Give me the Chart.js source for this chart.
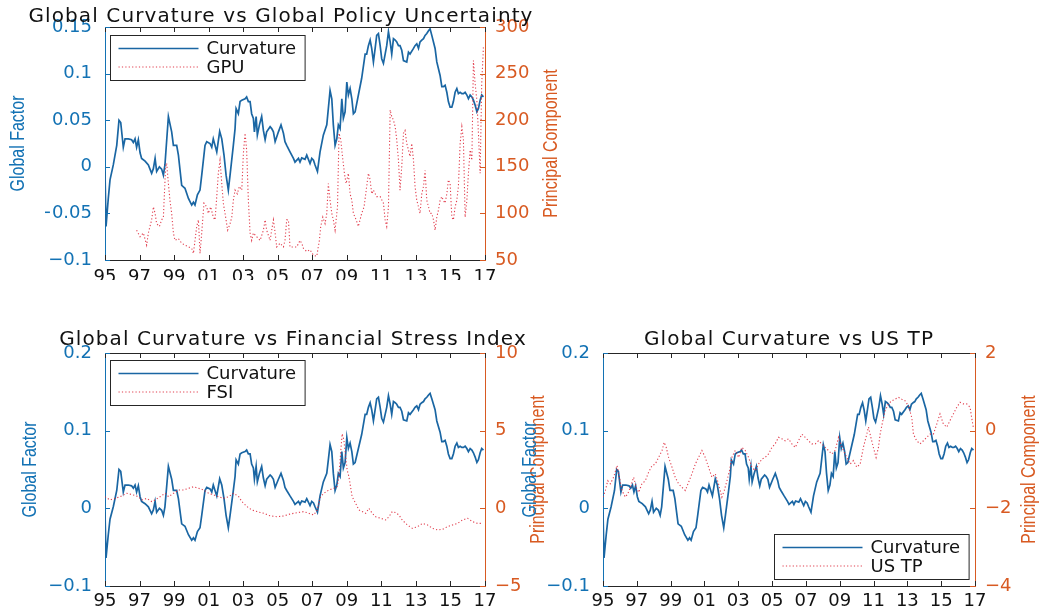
<!DOCTYPE html>
<html>
<head>
<meta charset="utf-8">
<script src="https://cdn.jsdelivr.net/npm/chart.js@4.4.1/dist/chart.umd.min.js"></script>
<style>
  html, body { margin: 0; padding: 0; background: #ffffff; }
  #wrap { position: relative; width: 1053px; height: 615px; overflow: hidden; background: #ffffff; }
  #wrap canvas { position: absolute; left: 0; top: 0; }
</style>
</head>
<body>
<div id="wrap">
  <canvas id="gpuChart" width="1053" height="615"></canvas>
  <canvas id="fsiChart" width="1053" height="615"></canvas>
  <canvas id="tpChart" width="1053" height="615"></canvas>
</div>
<script>
// ---- Shared x-axis years (decimal year) ----
const xTickYears = [1995, 1997, 1999, 2001, 2003, 2005, 2007, 2009, 2011, 2013, 2015, 2017];

// ---- Global curvature factor ----
const curvDates = [
  1995.00,1995.06,1995.19,1995.29,1995.48,1995.68,1995.81,1995.91,1996.06,1996.16,
  1996.35,1996.54,1996.64,1996.74,1996.83,1996.93,1997.03,1997.12,1997.32,1997.51,
  1997.70,1997.80,1997.90,1997.99,1998.15,1998.28,1998.38,1998.47,1998.67,1998.86,
  1998.96,1999.15,1999.25,1999.44,1999.63,1999.83,2000.02,2000.12,2000.21,2000.35,
  2000.50,2000.60,2000.79,2000.89,2001.08,2001.18,2001.27,2001.37,2001.47,2001.64,
  2001.76,2001.89,2002.01,2002.14,2002.24,2002.43,2002.53,2002.59,2002.72,2002.82,
  2002.92,2003.11,2003.20,2003.30,2003.40,2003.49,2003.59,2003.65,2003.75,2003.82,
  2003.94,2004.07,2004.17,2004.27,2004.36,2004.56,2004.65,2004.75,2004.85,2004.94,
  2005.04,2005.19,2005.33,2005.42,2005.52,2005.71,2005.91,2006.00,2006.20,2006.29,
  2006.39,2006.58,2006.68,2006.87,2006.97,2007.07,2007.16,2007.30,2007.45,2007.64,
  2007.84,2007.93,2008.03,2008.13,2008.22,2008.32,2008.42,2008.51,2008.61,2008.71,
  2008.80,2008.90,2009.00,2009.09,2009.19,2009.29,2009.38,2009.48,2009.67,2009.86,
  2010.06,2010.15,2010.25,2010.35,2010.44,2010.54,2010.64,2010.73,2010.83,2010.93,
  2011.02,2011.12,2011.31,2011.41,2011.51,2011.60,2011.70,2011.80,2011.89,2011.99,
  2012.08,2012.18,2012.28,2012.47,2012.57,2012.66,2012.86,2012.95,2013.05,2013.15,
  2013.24,2013.34,2013.44,2013.53,2013.63,2013.73,2013.82,2013.92,2014.11,2014.21,
  2014.40,2014.50,2014.59,2014.69,2014.79,2014.88,2014.98,2015.08,2015.17,2015.27,
  2015.37,2015.46,2015.56,2015.66,2015.75,2015.85,2015.95,2016.04,2016.14,2016.24,
  2016.33,2016.43,2016.53,2016.62,2016.72,2016.81,2016.91
];
const curvValues = [
  -0.005,-0.064,-0.034,-0.014,0.002,0.023,0.050,0.0475,0.021,0.030,
  0.030,0.029,0.026,0.030,0.021,0.029,0.015,0.009,0.006,0.002,
  -0.007,-0.002,0.009,-0.005,0.000,-0.0025,-0.009,0.002,0.054,0.0375,
  0.023,0.023,0.0125,-0.020,-0.023,-0.034,-0.041,-0.038,-0.041,-0.030,
  -0.025,-0.009,0.023,0.027,0.025,0.021,0.030,0.023,0.016,0.038,
  0.030,0.0125,-0.009,-0.025,-0.009,0.023,0.041,0.0625,0.057,0.070,
  0.0715,0.073,0.075,0.070,0.070,0.057,0.052,0.0375,0.054,0.034,
  0.045,0.054,0.039,0.029,0.0375,0.043,0.041,0.0375,0.027,0.032,
  0.0375,0.045,0.036,0.027,0.023,0.016,0.009,0.005,0.009,0.005,
  0.0095,0.008,0.0125,0.0035,0.009,0.007,0.002,-0.005,0.016,0.034,
  0.045,0.0625,0.082,0.073,0.045,0.023,0.030,0.045,0.041,0.073,
  0.052,0.059,0.091,0.077,0.084,0.073,0.057,0.059,0.077,0.095,
  0.121,0.121,0.130,0.136,0.127,0.1125,0.127,0.141,0.143,0.130,
  0.116,0.111,0.130,0.145,0.134,0.121,0.1375,0.136,0.134,0.130,
  0.130,0.125,0.114,0.1125,0.123,0.121,0.127,0.130,0.132,0.127,
  0.134,0.136,0.1375,0.141,0.143,0.146,0.148,0.141,0.127,0.1125,
  0.098,0.086,0.086,0.0875,0.080,0.070,0.064,0.064,0.070,0.080,
  0.084,0.0785,0.080,0.0785,0.0785,0.080,0.077,0.073,0.077,0.075,
  0.0715,0.066,0.059,0.0625,0.0715,0.077,0.075
];

// ---- Global Policy Uncertainty index ----
const gpuDates = [
  1996.83,1997.03,1997.22,1997.41,1997.51,1997.70,1997.80,1997.90,1997.99,1998.15,
  1998.28,1998.38,1998.51,1998.57,1998.67,1998.76,1998.86,1998.96,1999.05,1999.25,
  1999.44,1999.63,1999.83,2000.02,2000.12,2000.31,2000.41,2000.50,2000.60,2000.73,
  2000.89,2000.98,2001.12,2001.27,2001.37,2001.47,2001.56,2001.66,2001.76,2001.85,
  2002.01,2002.10,2002.24,2002.34,2002.43,2002.53,2002.66,2002.78,2002.92,2003.01,
  2003.11,2003.20,2003.30,2003.40,2003.49,2003.59,2003.78,2003.98,2004.17,2004.27,
  2004.36,2004.56,2004.65,2004.75,2004.85,2004.94,2005.14,2005.33,2005.42,2005.52,
  2005.62,2005.71,2005.91,2006.10,2006.29,2006.39,2006.49,2006.68,2006.87,2007.07,
  2007.26,2007.41,2007.49,2007.61,2007.74,2007.84,2007.93,2008.03,2008.13,2008.22,
  2008.32,2008.46,2008.55,2008.65,2008.75,2008.86,2008.96,2009.09,2009.19,2009.29,
  2009.38,2009.54,2009.67,2009.86,2010.00,2010.15,2010.25,2010.35,2010.44,2010.54,
  2010.73,2010.93,2011.12,2011.22,2011.31,2011.41,2011.51,2011.60,2011.70,2011.80,
  2011.89,2011.99,2012.08,2012.18,2012.28,2012.37,2012.47,2012.57,2012.66,2012.76,
  2012.86,2012.95,2013.05,2013.15,2013.24,2013.34,2013.44,2013.53,2013.63,2013.73,
  2013.82,2013.92,2014.02,2014.11,2014.21,2014.31,2014.40,2014.50,2014.59,2014.69,
  2014.79,2014.88,2014.98,2015.08,2015.17,2015.27,2015.37,2015.46,2015.56,2015.66,
  2015.75,2015.85,2015.95,2016.04,2016.14,2016.24,2016.33,2016.43,2016.53,2016.62,
  2016.72,2016.81,2016.91
];
const gpuValues = [
  82,75,79,66,79,93,107,100,89,86,
  93,96,150,154,132,114,100,79,71,73,
  68,66,64,62.5,57,86,93,57,79,111,
  107,100,107,96,93,118,143,157,132,111,
  93,82,89,96,114,125,121,129,125,164,
  186,168,114,79,71,79,75,71,82,93,
  82,71,82,93,79,64,68,64,71,93,
  93,64,64,64,71,68,62.5,59,61,55,
  54,71,86,96,89,100,132,114,100,93,
  82,107,186,179,161,143,132,143,121,114,
  100,93,86,100,107,129,143,136,121,125,
  118,118,111,93,86,107,211,204,200,193,
  179,157,125,150,186,189,175,168,161,175,
  157,129,114,107,100,121,129,146,114,107,
  100,100,93,82,96,104,114,118,114,111,
  121,136,132,96,93,107,114,129,175,193,
  179,96,114,143,168,157,264,239,221,186,
  143,239,279
];

// ---- Financial Stress Index ----
const fsiDates = [
  1995.00,1995.29,1995.58,1995.87,1996.26,1996.64,1996.93,1997.13,1997.42,1997.71,
  1997.90,1998.19,1998.48,1998.68,1998.97,1999.26,1999.55,1999.84,2000.13,2000.42,
  2000.71,2001.00,2001.29,2001.58,2001.87,2002.16,2002.45,2002.74,2002.93,2003.22,
  2003.51,2003.80,2004.19,2004.57,2004.96,2005.35,2005.74,2006.12,2006.51,2006.80,
  2007.09,2007.28,2007.48,2007.67,2007.96,2008.25,2008.44,2008.54,2008.64,2008.73,
  2008.83,2008.93,2009.02,2009.12,2009.31,2009.51,2009.70,2009.89,2010.09,2010.28,
  2010.47,2010.67,2010.96,2011.25,2011.44,2011.63,2011.83,2012.02,2012.21,2012.50,
  2012.80,2013.09,2013.38,2013.67,2013.96,2014.25,2014.54,2014.83,2015.12,2015.41,
  2015.70,2015.99,2016.28,2016.57,2016.86
];
const fsiValues = [
  0.75,0.54,0.64,0.75,0.97,0.86,0.75,0.54,0.64,0.43,
  0.54,0.75,0.97,0.75,0.97,1.18,1.18,1.29,1.39,1.29,
  1.18,0.97,0.86,0.75,0.64,0.75,0.97,0.75,0.43,0.11,
  -0.11,-0.21,-0.32,-0.49,-0.54,-0.49,-0.36,-0.28,-0.21,-0.32,
  -0.43,-0.11,0.75,0.97,1.18,1.29,1.39,2.04,3.54,4.8,
  4.40,3.33,2.47,2.04,0.75,0.32,-0.11,-0.21,-0.32,0.0,
  -0.32,-0.54,-0.64,-0.75,-0.54,-0.21,-0.28,-0.43,-0.75,-1.07,
  -1.29,-1.18,-0.97,-1.07,-1.29,-1.39,-1.35,-1.18,-1.07,-0.97,
  -0.75,-0.64,-0.86,-0.97,-0.97
];

// ---- US term premium (principal component) ----
const tpDates = [
  1995.00,1995.14,1995.28,1995.43,1995.63,1995.83,1995.97,1996.12,1996.32,1996.46,
  1996.62,1996.81,1996.97,1997.11,1997.30,1997.50,1997.70,1997.90,1998.09,1998.29,
  1998.49,1998.62,1998.74,1998.88,1999.08,1999.27,1999.47,1999.67,1999.87,2000.06,
  2000.26,2000.46,2000.65,2000.85,2001.05,2001.24,2001.44,2001.64,2001.83,2002.03,
  2002.17,2002.33,2002.48,2002.62,2002.82,2003.02,2003.21,2003.41,2003.61,2003.80,
  2004.00,2004.20,2004.40,2004.59,2004.79,2004.99,2005.18,2005.38,2005.58,2005.77,
  2005.97,2006.17,2006.37,2006.56,2006.76,2006.96,2007.15,2007.35,2007.55,2007.74,
  2007.94,2008.14,2008.33,2008.53,2008.73,2008.93,2009.06,2009.22,2009.42,2009.62,
  2009.81,2010.01,2010.21,2010.40,2010.60,2010.70,2010.84,2010.99,2011.15,2011.29,
  2011.39,2011.55,2011.68,2011.88,2012.08,2012.27,2012.47,2012.67,2012.86,2013.06,
  2013.26,2013.36,2013.55,2013.75,2013.95,2014.15,2014.34,2014.54,2014.74,2014.93,
  2015.13,2015.33,2015.52,2015.72,2015.92,2016.12,2016.31,2016.51,2016.71,2016.80,
  2016.90
];
const tpValues = [
  -1.71,-1.54,-1.29,-1.37,-1.20,-0.90,-1.20,-1.54,-1.71,-1.63,
  -1.46,-1.20,-1.46,-1.59,-1.37,-1.29,-1.07,-0.90,-0.86,-0.69,
  -0.51,-0.30,-0.43,-0.69,-0.94,-1.20,-1.37,-1.46,-1.54,-1.33,
  -1.11,-0.86,-0.69,-0.51,-0.69,-0.94,-1.20,-1.11,-1.37,-1.71,
  -1.54,-1.29,-1.03,-0.69,-0.51,-0.69,-0.43,-0.51,-0.69,-0.94,
  -1.03,-0.86,-0.73,-0.69,-0.60,-0.43,-0.34,-0.17,-0.21,-0.26,
  -0.21,-0.34,-0.43,-0.26,-0.09,-0.17,-0.26,-0.34,-0.34,-0.26,
  -0.34,-0.43,-0.51,-0.60,-0.51,-0.17,-0.34,-0.51,-0.69,-0.86,
  -0.77,-0.94,-0.86,-0.43,-0.09,0.09,-0.17,-0.43,-0.69,-0.43,
  -0.09,0.26,0.51,0.69,0.77,0.81,0.86,0.81,0.77,0.64,
  0.34,-0.09,-0.26,-0.34,-0.26,-0.17,-0.09,-0.09,0.17,0.43,
  0.17,0.09,0.26,0.43,0.60,0.73,0.69,0.69,0.60,0.34,
  0.09
];

// ---- Axis tick values ----
const gpuLeftTicks  = [-0.1, -0.05, 0, 0.05, 0.1, 0.15];
const gpuRightTicks = [50, 100, 150, 200, 250, 300];
const fsiLeftTicks  = [-0.1, 0, 0.1, 0.2];
const fsiRightTicks = [-5, 0, 5, 10];
const tpLeftTicks   = [-0.1, 0, 0.1, 0.2];
const tpRightTicks  = [-4, -2, 0, 2];

// ---- Styling ----
const AX_BLUE = '#1372b4';
const AX_ORANGE = '#d85a22';
const FRAME = '#262626';
const CURV_COLOR = '#1a66a3';
const DOT_COLOR = 'rgba(222, 40, 58, 0.9)';
const DOT_DASH = [1.2, 2.2];
const TICK_FONT = { family: 'DejaVu Sans', size: 18 };

Chart.defaults.font.family = 'DejaVu Sans';

function toPoints(xs, ys) { return xs.map((x, i) => ({ x: x, y: ys[i] })); }

function yearLabel(v) { return String(Math.round(v) % 100).padStart(2, '0'); }

function numLabel(v) {
  const r = Math.round(v * 1000) / 1000;
  const s = String(Math.abs(r));
  return r < 0 ? '\u2212' + s : s;
}

// Frame, inward tick marks, titles and in-axes legend
const panelDecor = {
  id: 'panelDecor',
  afterDraw(chart, args, o) {
    const ctx = chart.ctx;
    const a = chart.chartArea;
    const xs = chart.scales.x, yl = chart.scales.yL, yr = chart.scales.yR;
    const T = 5;
    ctx.save();
    ctx.lineWidth = 1;

    // top edge of the box
    ctx.strokeStyle = FRAME;
    ctx.beginPath();
    ctx.moveTo(a.left, Math.round(a.top) + 0.5);
    ctx.lineTo(a.right, Math.round(a.top) + 0.5);
    ctx.stroke();

    // x tick marks (bottom and top, pointing inward)
    ctx.beginPath();
    xs.ticks.forEach(t => {
      const p = Math.round(xs.getPixelForValue(t.value)) + 0.5;
      ctx.moveTo(p, a.bottom); ctx.lineTo(p, a.bottom - T);
      ctx.moveTo(p, a.top); ctx.lineTo(p, a.top + T);
    });
    ctx.stroke();

    // left y tick marks
    ctx.strokeStyle = AX_BLUE;
    ctx.beginPath();
    yl.ticks.forEach(t => {
      const p = Math.round(yl.getPixelForValue(t.value)) + 0.5;
      ctx.moveTo(a.left, p); ctx.lineTo(a.left + T, p);
    });
    ctx.stroke();

    // right y tick marks
    ctx.strokeStyle = AX_ORANGE;
    ctx.beginPath();
    yr.ticks.forEach(t => {
      const p = Math.round(yr.getPixelForValue(t.value)) + 0.5;
      ctx.moveTo(a.right, p); ctx.lineTo(a.right - T, p);
    });
    ctx.stroke();

    // title
    ctx.fillStyle = '#111111';
    ctx.font = '20px "DejaVu Sans"';
    if ('letterSpacing' in ctx) ctx.letterSpacing = '1.1px';
    ctx.textAlign = 'center';
    ctx.textBaseline = 'alphabetic';
    ctx.fillText(o.title, o.titleX, o.titleY);
    if ('letterSpacing' in ctx) ctx.letterSpacing = '0px';

    // axis titles (condensed, rotated)
    const midY = (a.top + a.bottom) / 2;
    const axisTitle = (text, x, color) => {
      ctx.save();
      ctx.translate(x, midY);
      ctx.rotate(-Math.PI / 2);
      ctx.scale(0.82, 1);
      ctx.fillStyle = color;
      ctx.font = '19.5px "Liberation Sans"';
      ctx.textAlign = 'center';
      ctx.textBaseline = 'middle';
      ctx.fillText(text, 0, 0);
      ctx.restore();
    };
    axisTitle('Global Factor', o.leftTitleX, AX_BLUE);
    axisTitle('Principal Component', o.rightTitleX, AX_ORANGE);

    // legend box
    const lg = o.legend;
    ctx.font = '18px "DejaVu Sans"';
    const textW = Math.max(...lg.items.map(it => ctx.measureText(it.text).width));
    const boxW = 96 + textW + 9;
    const boxH = 45;
    let bx, by;
    if (lg.corner === 'nw') { bx = a.left + lg.dx; by = a.top + lg.dy; }
    else { bx = a.right - lg.dx - boxW; by = a.bottom - lg.dy - boxH; }
    bx = Math.round(bx) + 0.5; by = Math.round(by) + 0.5;
    ctx.fillStyle = '#ffffff';
    ctx.fillRect(bx, by, boxW, boxH);
    ctx.strokeStyle = FRAME;
    ctx.setLineDash([]);
    ctx.strokeRect(bx, by, boxW, boxH);
    lg.items.forEach((it, i) => {
      const ry = by + 13 + i * 18.5;
      ctx.strokeStyle = it.color;
      ctx.lineWidth = it.width;
      ctx.setLineDash(it.dash || []);
      ctx.beginPath();
      ctx.moveTo(bx + 8, ry); ctx.lineTo(bx + 88, ry);
      ctx.stroke();
      ctx.setLineDash([]);
      ctx.fillStyle = '#111111';
      ctx.textAlign = 'left';
      ctx.textBaseline = 'middle';
      ctx.fillText(it.text, bx + 96, ry + 1);
    });
    ctx.restore();
  }
};

function makePanel(canvasId, p) {
  const AXW = 60, AXH = 20;
  return new Chart(document.getElementById(canvasId), {
    type: 'line',
    data: {
      datasets: [
        {
          label: p.otherLabel,
          data: toPoints(p.otherDates, p.otherValues),
          yAxisID: 'yR',
          borderColor: DOT_COLOR,
          borderWidth: 1.1,
          borderDash: DOT_DASH,
          pointRadius: 0,
          tension: 0,
          order: 0
        },
        {
          label: 'Curvature',
          data: toPoints(curvDates, curvValues),
          yAxisID: 'yL',
          borderColor: CURV_COLOR,
          borderWidth: 1.7,
          pointRadius: 0,
          tension: 0,
          order: 1
        }
      ]
    },
    options: {
      responsive: false,
      animation: false,
      devicePixelRatio: 1,
      events: [],
      layout: {
        padding: {
          left: p.area.left - AXW,
          right: 1053 - p.area.right - AXW,
          top: p.area.top,
          bottom: 615 - p.area.bottom - AXH
        }
      },
      plugins: {
        legend: { display: false },
        title: { display: false },
        tooltip: { enabled: false },
        panelDecor: {
          title: p.title, titleX: p.titleX, titleY: p.titleY,
          leftTitleX: p.leftTitleX, rightTitleX: p.rightTitleX,
          legend: {
            corner: p.legendCorner, dx: p.legendDx, dy: p.legendDy,
            items: [
              { text: 'Curvature', color: CURV_COLOR, width: 1.7 },
              { text: p.otherLabel, color: DOT_COLOR, width: 1.1, dash: DOT_DASH }
            ]
          }
        }
      },
      scales: {
        x: {
          type: 'linear',
          min: xTickYears[0],
          max: xTickYears[xTickYears.length - 1],
          afterBuildTicks: s => { s.ticks = xTickYears.map(v => ({ value: v })); },
          afterFit: s => { s.height = AXH; },
          grid: { display: false, drawTicks: false },
          border: { display: true, color: FRAME, width: 1 },
          ticks: {
            color: '#111111', font: TICK_FONT, padding: p.xPad,
            autoSkip: false, maxRotation: 0, minRotation: 0,
            callback: v => yearLabel(v)
          }
        },
        yL: {
          type: 'linear',
          position: 'left',
          min: p.leftTicks[0],
          max: p.leftTicks[p.leftTicks.length - 1],
          afterBuildTicks: s => { s.ticks = p.leftTicks.map(v => ({ value: v })); },
          afterFit: s => { s.width = AXW; },
          grid: { display: false, drawTicks: false },
          border: { display: true, color: AX_BLUE, width: 1 },
          ticks: { color: AX_BLUE, font: TICK_FONT, padding: 13, callback: v => numLabel(v) }
        },
        yR: {
          type: 'linear',
          position: 'right',
          min: p.rightTicks[0],
          max: p.rightTicks[p.rightTicks.length - 1],
          afterBuildTicks: s => { s.ticks = p.rightTicks.map(v => ({ value: v })); },
          afterFit: s => { s.width = AXW; },
          grid: { display: false, drawTicks: false },
          border: { display: true, color: AX_ORANGE, width: 1 },
          ticks: { color: AX_ORANGE, font: TICK_FONT, padding: 10, callback: v => numLabel(v) }
        }
      }
    },
    plugins: [panelDecor]
  });
}

makePanel('gpuChart', {
  otherLabel: 'GPU', otherDates: gpuDates, otherValues: gpuValues,
  leftTicks: gpuLeftTicks, rightTicks: gpuRightTicks,
  area: { left: 105, right: 485, top: 27, bottom: 260 },
  xPad: 7,
  title: 'Global Curvature vs Global Policy Uncertainty', titleX: 281, titleY: 22,
  leftTitleX: 19, rightTitleX: 552,
  legendCorner: 'nw', legendDx: 5, legendDy: 8
});

makePanel('fsiChart', {
  otherLabel: 'FSI', otherDates: fsiDates, otherValues: fsiValues,
  leftTicks: fsiLeftTicks, rightTicks: fsiRightTicks,
  area: { left: 105, right: 485, top: 353, bottom: 586 },
  xPad: 5,
  title: 'Global Curvature vs Financial Stress Index', titleX: 293, titleY: 345,
  leftTitleX: 31, rightTitleX: 539,
  legendCorner: 'nw', legendDx: 5, legendDy: 7
});

makePanel('tpChart', {
  otherLabel: 'US TP', otherDates: tpDates, otherValues: tpValues,
  leftTicks: tpLeftTicks, rightTicks: tpRightTicks,
  area: { left: 603, right: 975, top: 353, bottom: 586 },
  xPad: 5,
  title: 'Global Curvature vs US TP', titleX: 789, titleY: 345,
  leftTitleX: 531, rightTitleX: 1030,
  legendCorner: 'se', legendDx: 6, legendDy: 7
});
</script>
</body>
</html>
